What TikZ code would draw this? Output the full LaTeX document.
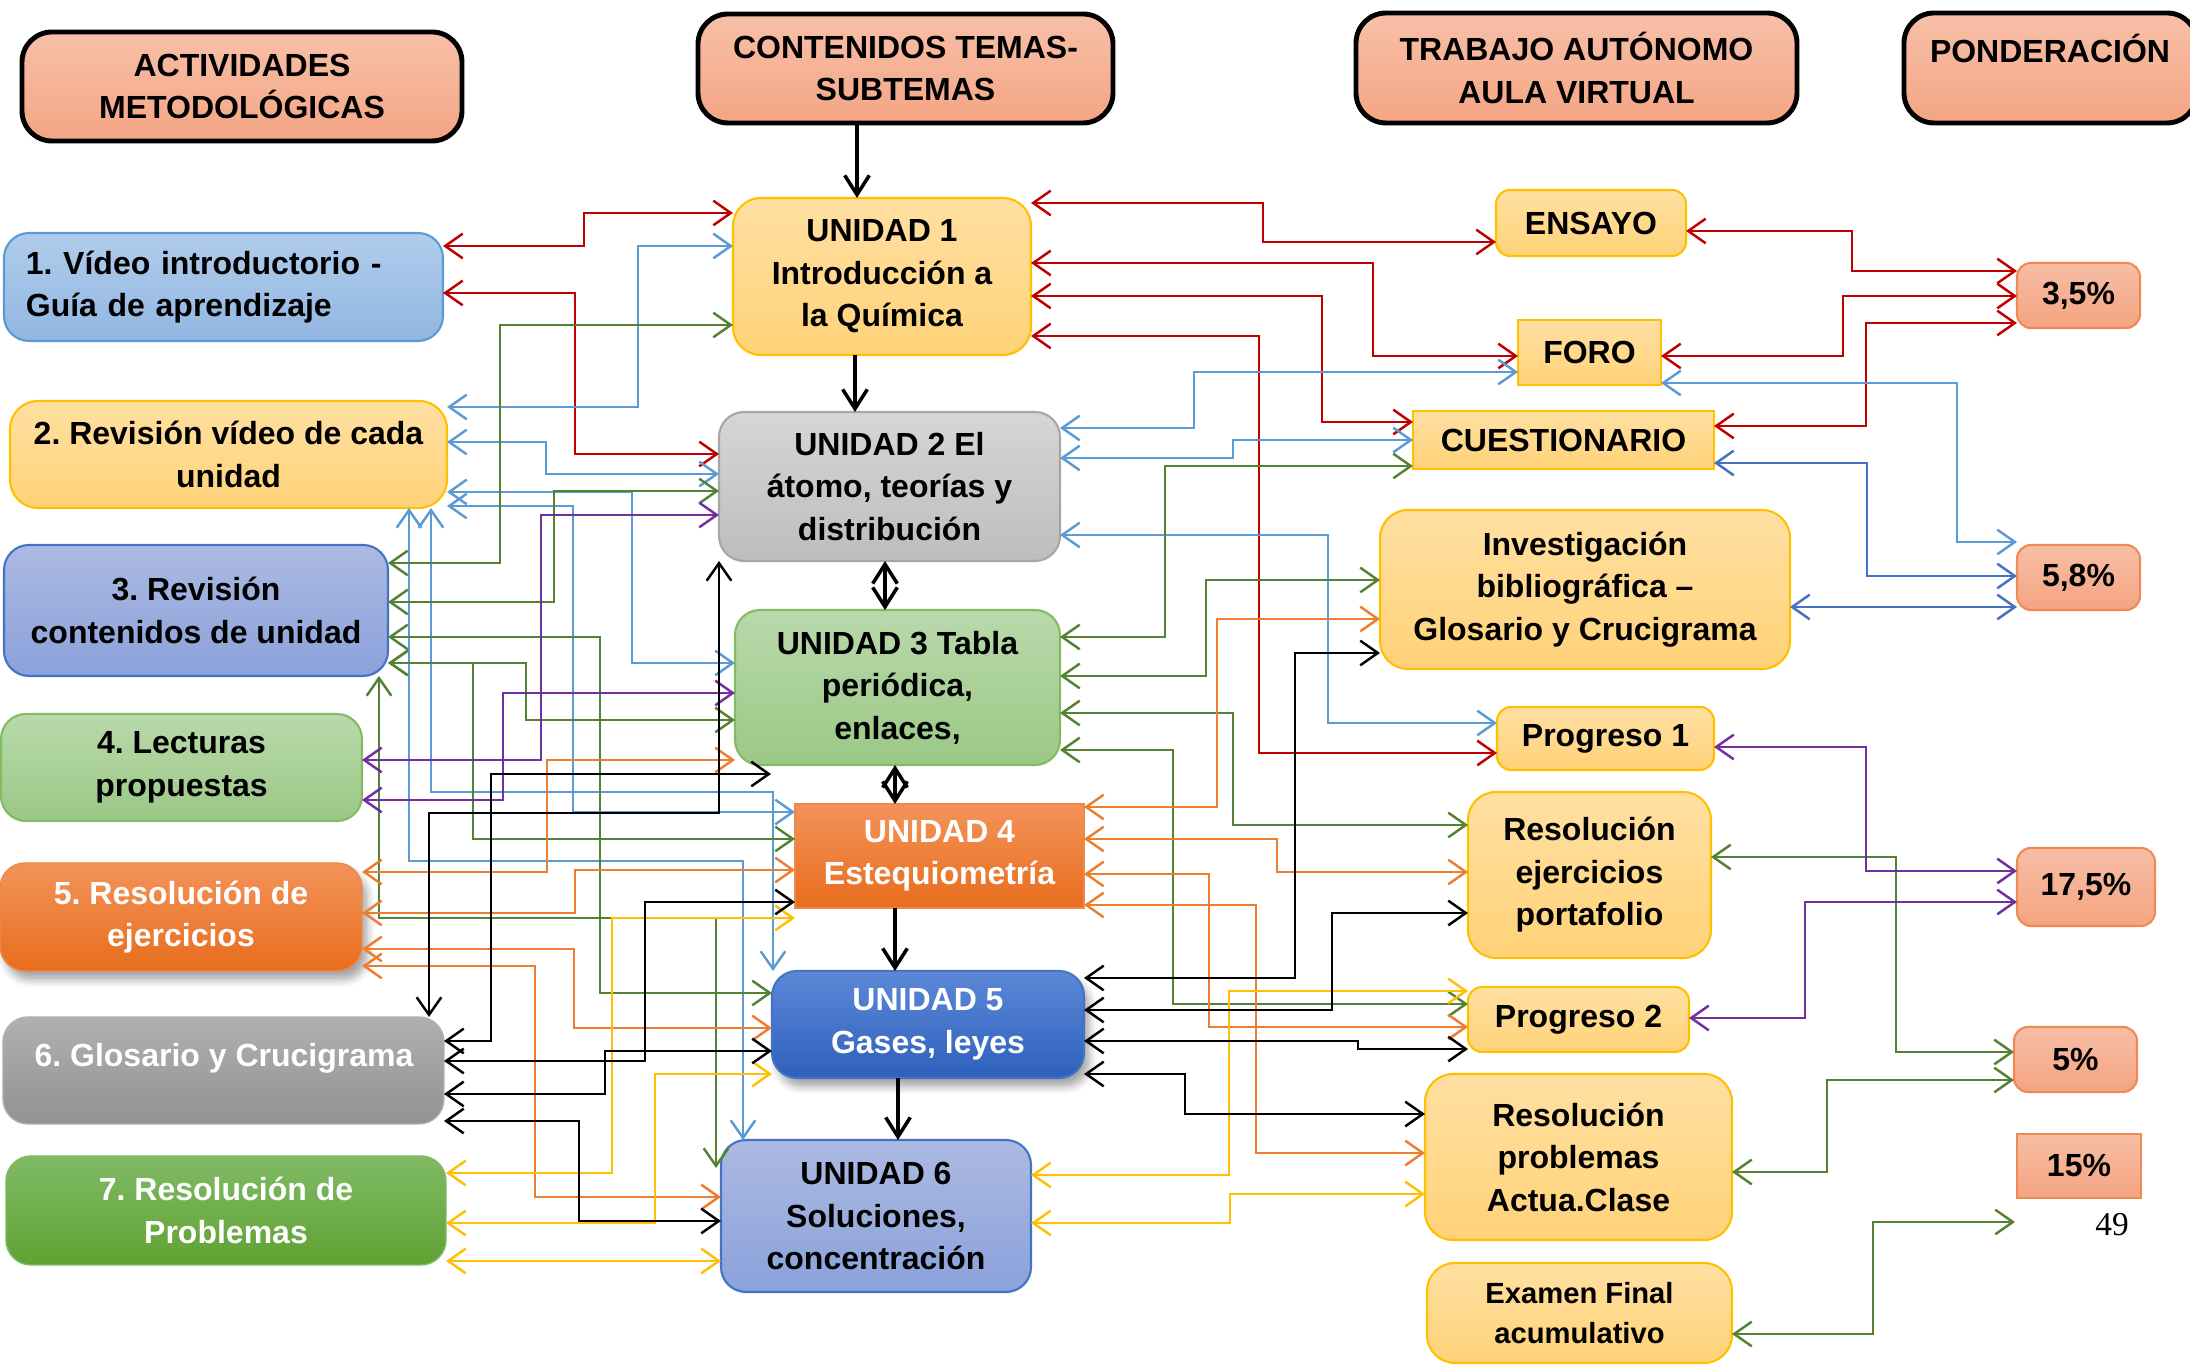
\documentclass[tikz,border=0pt]{standalone}
\usepackage{fontspec}
\setmainfont{Liberation Sans}
\newfontfamily\pagenumfont{Liberation Serif}
\usetikzlibrary{arrows.meta,shadows.blur}
\frenchspacing

% palette
\definecolor{hdrTop}{HTML}{F7C0A8}
\definecolor{hdrBot}{HTML}{F4A584}
\definecolor{yTop}{HTML}{FFE0A2}
\definecolor{yBot}{HTML}{FFD278}
\definecolor{pTop}{HTML}{F7BEA6}
\definecolor{pBot}{HTML}{F4A480}
\definecolor{pLine}{HTML}{F08A55}
\definecolor{skyTop}{HTML}{B0CCEB}
\definecolor{skyBot}{HTML}{92B6E2}
\definecolor{periTop}{HTML}{ACBAE2}
\definecolor{periBot}{HTML}{8AA1DA}
\definecolor{leafTop}{HTML}{B9D9AB}
\definecolor{leafBot}{HTML}{9BC886}
\definecolor{leafLine}{HTML}{82BB62}
\definecolor{oraTop}{HTML}{F39359}
\definecolor{oraBot}{HTML}{E86D1D}
\definecolor{ashTop}{HTML}{B0B0B0}
\definecolor{ashBot}{HTML}{929292}
\definecolor{silTop}{HTML}{D6D6D6}
\definecolor{silBot}{HTML}{BDBDBD}
\definecolor{grassTop}{HTML}{80BA66}
\definecolor{grassBot}{HTML}{60A232}
\definecolor{royTop}{HTML}{5C88D7}
\definecolor{royBot}{HTML}{2E60BC}
% connector colours
\definecolor{cRed}{HTML}{C00000}
\definecolor{cSky}{HTML}{5B9BD5}
\definecolor{cNavy}{HTML}{4472C4}
\definecolor{cGreen}{HTML}{548235}
\definecolor{cPurple}{HTML}{7030A0}
\definecolor{cOrange}{HTML}{ED7D31}
\definecolor{cGold}{HTML}{FFC000}

\begin{document}
\begin{tikzpicture}[x=0.01cm,y=-0.01cm,
  corners/.style args={#1/#2/#3/#4}{at={({(#1+#3)/2},{(#2+#4)/2})},
     minimum width={(#3-#1)*0.01cm}, minimum height={(#4-#2)*0.01cm}},
  lbl/.style={font=\bfseries\fontsize{9.1}{12.1}\selectfont, align=center, inner sep=1pt},
  box/.style={lbl, outer sep=0pt},
  hdr/.style={box, draw=black, line width=1.4pt, rounded corners=0.3cm, top color=hdrTop, bottom color=hdrBot},
  yelr/.style={box, draw=cGold, line width=0.6pt, rounded corners=0.28cm, top color=yTop, bottom color=yBot},
  yels/.style={box, draw=cGold, line width=0.6pt, rounded corners=0.14cm, top color=yTop, bottom color=yBot},
  yelq/.style={box, draw=cGold, line width=0.6pt, top color=yTop, bottom color=yBot},
  pond/.style={box, draw=pLine, line width=0.6pt, rounded corners=0.14cm, top color=pTop, bottom color=pBot},
  pondq/.style={box, draw=pLine, line width=0.6pt, top color=pTop, bottom color=pBot},
  skybox/.style={box, draw=cSky, line width=0.6pt, rounded corners=0.25cm, top color=skyTop, bottom color=skyBot},
  peribox/.style={box, draw=cNavy, line width=0.6pt, rounded corners=0.25cm, top color=periTop, bottom color=periBot},
  leafbox/.style={box, draw=leafLine, line width=0.6pt, rounded corners=0.25cm, top color=leafTop, bottom color=leafBot},
  orabox/.style={box, draw=oraBot!80!white, line width=0.4pt, rounded corners=0.25cm, top color=oraTop, bottom color=oraBot, text=white},
  orasq/.style={box, draw=oraBot!80!white, line width=0.4pt, top color=oraTop, bottom color=oraBot, text=white},
  ashbox/.style={box, draw=ashTop, line width=0.4pt, rounded corners=0.25cm, top color=ashTop, bottom color=ashBot},
  silbox/.style={box, draw=black!35, line width=0.6pt, rounded corners=0.25cm, top color=silTop, bottom color=silBot},
  grassbox/.style={box, draw=grassTop, line width=0.4pt, rounded corners=0.25cm, top color=grassTop, bottom color=grassBot, text=white},
  roybox/.style={box, draw=cNavy, line width=0.6pt, rounded corners=0.25cm, top color=royTop, bottom color=royBot, text=white},
  softshadow/.style={blur shadow={shadow blur steps=6, shadow xshift=1.5pt, shadow yshift=-2.5pt, shadow opacity=35}},
  lnk/.style={line width=0.7pt, {Straight Barb[length=5pt,width=7pt]}-{Straight Barb[length=5pt,width=7pt]}},
  lRed/.style={lnk, cRed},
  lSky/.style={lnk, cSky},
  lNavy/.style={lnk, cNavy},
  lGreen/.style={lnk, cGreen},
  lPurple/.style={lnk, cPurple},
  lOrange/.style={lnk, cOrange},
  lGold/.style={lnk, cGold},
  lBlack/.style={lnk, black},
  chainone/.style={line width=1pt, black, -{Straight Barb[length=5.5pt,width=7pt]}},
  chaintwo/.style={line width=1pt, black, {Straight Barb[length=5.5pt,width=7pt]}-{Straight Barb[length=5.5pt,width=7pt]}}
]
\useasboundingbox (0,0) rectangle (2190,1368);

% ---------- column headers ----------
\node[hdr, corners=22/32/462/141] (hAct) {ACTIVIDADES\\METODOLÓGICAS};
\node[hdr, corners=698/14/1113/123] (hCont) {CONTENIDOS TEMAS-\\SUBTEMAS};
\node[hdr, corners=1356/13/1797/123] (hTrab) {TRABAJO AUTÓNOMO\\AULA VIRTUAL};
\node[hdr, corners=1904/13/2197/123] (hPond) {};
\node[lbl] (hPondTxt) at (2050,48) {PONDERACIÓN};

% ---------- methodological activities ----------
\node[skybox, corners=4/233/443/341, text width=3.95cm, align=left] (a1) {1. Vídeo introductorio -\\Guía de aprendizaje};
\node[yelr, corners=10/401/447/508] (a2) {2. Revisión vídeo de cada\\unidad};
\node[peribox, corners=4/545/388/676] (a3) {3. Revisión\\contenidos de unidad};
\node[leafbox, corners=1/714/362/821] (a4) {4. Lecturas\\propuestas};
\node[orabox, softshadow, corners=0/863/362/971] (a5) {5. Resolución de\\ejercicios};
\node[ashbox, corners=3/1017/444/1124] (a6) {};
\node[lbl, text=white] (a6Txt) at (224,1058) {6. Glosario y Crucigrama};
\node[grassbox, corners=6/1156/446/1265] (a7) {7. Resolución de\\Problemas};

% ---------- units ----------
\node[yelr, corners=733/198/1031/355] (u1) {UNIDAD 1\\Introducción a\\la Química};
\node[silbox, corners=719/412/1060/561] (u2) {UNIDAD 2 El\\átomo, teorías y\\distribución};
\node[leafbox, corners=735/610/1060/765] (u3) {UNIDAD 3 Tabla\\periódica,\\enlaces,};
\node[orasq, corners=795/804/1084/908] (u4) {UNIDAD 4\\Estequiometría};
\node[roybox, softshadow, corners=772/971/1084/1078] (u5) {UNIDAD 5\\Gases, leyes};
\node[peribox, corners=721/1140/1031/1292] (u6) {UNIDAD 6\\Soluciones,\\concentración};

% ---------- virtual classroom work ----------
\node[yels, corners=1496/190/1686/256] (t1) {ENSAYO};
\node[yelq, corners=1518/320/1661/385] (t2) {FORO};
\node[yelq, corners=1413/411/1714/469] (t3) {CUESTIONARIO};
\node[yelr, corners=1380/510/1790/669] (t4) {Investigación\\bibliográfica –\\Glosario y Crucigrama};
\node[yels, corners=1497/707/1714/770] (t5) {Progreso 1};
\node[yelr, corners=1468/792/1711/958] (t6) {Resolución\\ejercicios\\portafolio};
\node[yels, corners=1468/987/1689/1052] (t7) {Progreso 2};
\node[yelr, corners=1425/1074/1732/1240] (t8) {Resolución\\problemas\\Actua.Clase};
\node[yelr, corners=1427/1263/1732/1363, font=\bfseries\fontsize{8.3}{11.4}\selectfont] (t9) {Examen Final\\acumulativo};

% ---------- weights ----------
\node[pond, corners=2017/263/2140/328] (p1) {3,5\%};
\node[pond, corners=2017/545/2140/610] (p2) {5,8\%};
\node[pond, corners=2017/848/2155/926] (p3) {17,5\%};
\node[pond, corners=2014/1027/2137/1092] (p4) {5\%};
\node[pondq, corners=2017/1134/2141/1198] (p5) {15\%};
\node[font=\pagenumfont\fontsize{9.5}{11}\selectfont, inner sep=0pt] (pgnum) at (2112,1225) {49};

% free ends of three connectors
\coordinate (examEnd) at (2015,1222);
\coordinate (gloEnd) at (771,774);
\coordinate (solCorner) at (716,1168);

% ---------- sequence of units ----------
\draw[chainone] (hCont.south -| 857,0) -- (u1.north -| 857,0);
\draw[chainone] (u1.south -| 855,0) -- (u2.north -| 855,0);
\draw[chaintwo] (u2.south -| 885,0) -- (u3.north -| 885,0);
\draw[chaintwo] (u3.south -| 895,0) -- (u4.north -| 895,0);
\draw[chainone] (u4.south -| 895,0) -- (u5.north -| 895,0);
\draw[chainone] (u5.south -| 898,0) -- (u6.north -| 898,0);

% ---------- red links ----------
\draw[lRed] (a1.east |- 0,246) -| (584,213) -- (u1.west |- 0,213);
\draw[lRed] (a1.east |- 0,293) -| (575,454) -- (u2.west |- 0,454);
\draw[lRed] (u1.east |- 0,203) -| (1263,242) -- (t1.west |- 0,242);
\draw[lRed] (u1.east |- 0,263) -| (1373,356) -- (t2.west |- 0,356);
\draw[lRed] (u1.east |- 0,296) -| (1322,422) -- (t3.west |- 0,422);
\draw[lRed] (u1.east |- 0,336) -| (1259,753) -- (t5.west |- 0,753);
\draw[lRed] (t1.east |- 0,231) -| (1852,271) -- (p1.west |- 0,271);
\draw[lRed] (t2.east |- 0,356) -| (1843,296) -- (p1.west |- 0,296);
\draw[lRed] (t3.east |- 0,426) -| (1866,323) -- (p1.west |- 0,323);

% ---------- light blue links ----------
\draw[lSky] (a2.east |- 0,407) -| (638,246) -- (u1.west |- 0,246);
\draw[lSky] (a2.east |- 0,442) -| (546,474) -- (u2.west |- 0,474);
\draw[lSky] (a2.east |- 0,492) -| (632,663) -- (u3.west |- 0,663);
\draw[lSky] (a2.east |- 0,506) -| (573,812) -- (u4.west |- 0,812);
\draw[lSky] (a2.south -| 409,0) |- (743,861) -- (u6.north -| 743,0);
\draw[lSky] (a2.south -| 431,0) |- (773,792) -- (u5.north -| 773,0);
\draw[lSky] (u2.east |- 0,428) -| (1194,372) -- (t2.west |- 0,372);
\draw[lSky] (u2.east |- 0,458) -| (1233,440) -- (t3.west |- 0,440);
\draw[lSky] (u2.east |- 0,535) -| (1328,723) -- (t5.west |- 0,723);
\draw[lSky] (t2.east |- 0,383) -| (1957,542) -- (p2.west |- 0,542);

% ---------- dark blue links ----------
\draw[lNavy] (t3.east |- 0,463) -| (1867,576) -- (p2.west |- 0,576);
\draw[lNavy] (t4.east |- 0,607) -- (p2.west |- 0,607);

% ---------- green links ----------
\draw[lGreen] (a3.east |- 0,563) -| (500,325) -- (u1.west |- 0,325);
\draw[lGreen] (a3.east |- 0,602) -| (554,491) -- (u2.west |- 0,491);
\draw[lGreen] (a3.east |- 0,637) -| (600,993) -- (u5.west |- 0,993);
\draw[lGreen] (a3.east |- 0,663) -| (526,720) -- (u3.west |- 0,720);
\draw[lGreen] (a3.east |- 0,663) -| (473,839) -- (u4.west |- 0,839);
\draw[lGreen] (a3.south -| 379,0) |- (716,918) -- (solCorner);
\draw[lGreen] (u3.east |- 0,637) -| (1165,466) -- (t3.west |- 0,466);
\draw[lGreen] (u3.east |- 0,676) -| (1206,580) -- (t4.west |- 0,580);
\draw[lGreen] (u3.east |- 0,713) -| (1233,825) -- (t6.west |- 0,825);
\draw[lGreen] (u3.east |- 0,750) -| (1173,1004) -- (t7.west |- 0,1004);
\draw[lGreen] (t6.east |- 0,857) -| (1896,1052) -- (p4.west |- 0,1052);
\draw[lGreen] (t8.east |- 0,1172) -| (1827,1080) -- (p4.west |- 0,1080);
\draw[lGreen] (t9.east |- 0,1334) -| (1873,1222) -- (examEnd);

% ---------- purple links ----------
\draw[lPurple] (a4.east |- 0,760) -| (541,515) -- (u2.west |- 0,515);
\draw[lPurple] (a4.east |- 0,800) -| (503,693) -- (u3.west |- 0,693);
\draw[lPurple] (t5.east |- 0,747) -| (1866,871) -- (p3.west |- 0,871);
\draw[lPurple] (t7.east |- 0,1018) -| (1805,902) -- (p3.west |- 0,902);

% ---------- orange links ----------
\draw[lOrange] (a5.east |- 0,872) -| (547,760) -- (u3.west |- 0,760);
\draw[lOrange] (a5.east |- 0,913) -| (575,870) -- (u4.west |- 0,870);
\draw[lOrange] (a5.east |- 0,949) -| (574,1028) -- (u5.west |- 0,1028);
\draw[lOrange] (a5.east |- 0,966) -| (535,1197) -- (u6.west |- 0,1197);
\draw[lOrange] (u4.east |- 0,807) -| (1217,619) -- (t4.west |- 0,619);
\draw[lOrange] (u4.east |- 0,839) -| (1277,872) -- (t6.west |- 0,872);
\draw[lOrange] (u4.east |- 0,874) -| (1209,1027) -- (t7.west |- 0,1027);
\draw[lOrange] (u4.east |- 0,905) -| (1256,1153) -- (t8.west |- 0,1153);

% ---------- yellow links ----------
\draw[lGold] (u4.south west |- 0,918) -| (612,1173) -- (a7.east |- 0,1173);
\draw[lGold] (u5.west |- 0,1074) -| (655,1223) -- (a7.east |- 0,1223);
\draw[lGold] (a7.east |- 0,1261) -- (u6.west |- 0,1261);
\draw[lGold] (u6.east |- 0,1175) -| (1229,991) -- (t7.west |- 0,991);
\draw[lGold] (u6.east |- 0,1223) -| (1230,1194) -- (t8.west |- 0,1194);

% ---------- black links ----------
\draw[lBlack] (a6.north -| 429,0) |- (719,813) -- (u2.south -| 719,0);
\draw[lBlack] (a6.east |- 0,1041) -| (491,774) -- (gloEnd);
\draw[lBlack] (a6.east |- 0,1061) -| (645,902) -- (u4.west |- 0,902);
\draw[lBlack] (a6.east |- 0,1094) -| (605,1051) -- (u5.west |- 0,1051);
\draw[lBlack] (a6.east |- 0,1121) -| (579,1221) -- (u6.west |- 0,1221);
\draw[lBlack] (u5.east |- 0,978) -| (1295,653) -- (t4.west |- 0,653);
\draw[lBlack] (u5.east |- 0,1010) -| (1332,913) -- (t6.west |- 0,913);
\draw[lBlack] (u5.east |- 0,1041) -| (1358,1049) -- (t7.west |- 0,1049);
\draw[lBlack] (u5.east |- 0,1074) -| (1185,1114) -- (t8.west |- 0,1114);
\end{tikzpicture}
\end{document}
